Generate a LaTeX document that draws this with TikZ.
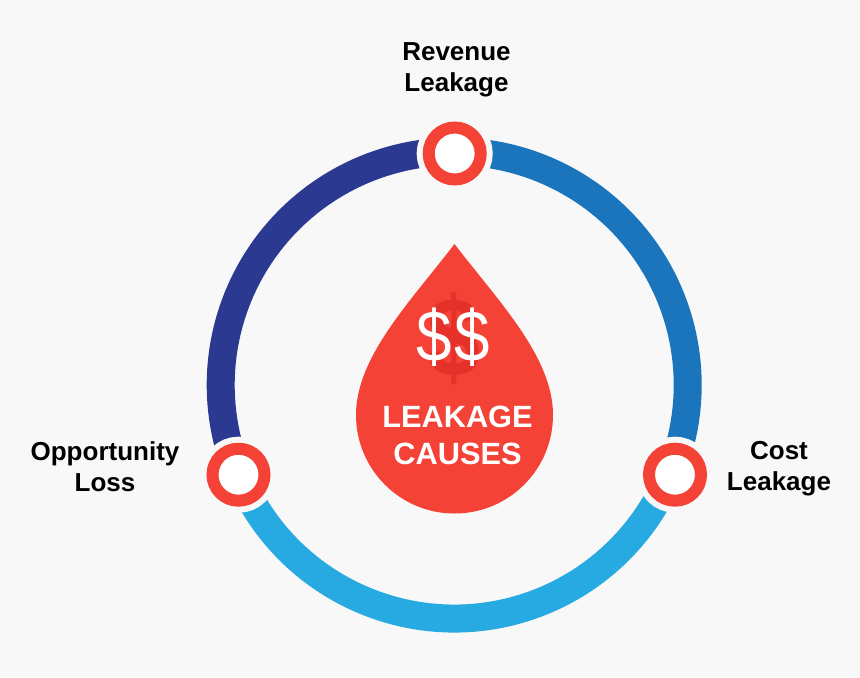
\documentclass[tikz,border=0pt]{standalone}
\usepackage{fontspec}
\setmainfont{Liberation Sans}
\definecolor{pagebg}{HTML}{F8F8F8}
\definecolor{leakred}{HTML}{F44336}
\definecolor{darkdollar}{HTML}{E6302A}
\definecolor{navyseg}{HTML}{2B3990}
\definecolor{blueseg}{HTML}{1B75BC}
\definecolor{skyseg}{HTML}{27AAE1}

\begin{document}
\begin{tikzpicture}[
	  ringseg/.style={line width=0.28cm},
	  causenode/.style={circle, inner sep=0pt, outer sep=0pt, minimum size=0.52cm, draw=leakred, line width=0.12cm, fill=white, preaction={draw=pagebg, line width=0.24cm}},
	  causelabel/.style={align=center, font=\fontsize{7.4}{8.8}\selectfont\bfseries},
	  droptext/.style={align=center, text=white, font=\fontsize{8.75}{10.5}\selectfont\bfseries}
	]

	\fill [pagebg] (0,0) rectangle (8.6,6.77);
	\useasboundingbox (0,0) rectangle (8.6,6.77);

	\coordinate (ringc) at (4.542,2.92);

	\draw [ringseg, navyseg] ([shift={(90:2.335)}]ringc) arc[start angle=90, end angle=203, radius=2.335];
	\draw [ringseg, blueseg] ([shift={(90:2.335)}]ringc) arc[start angle=90, end angle=-23, radius=2.335];
	\draw [ringseg, skyseg] ([shift={(203:2.335)}]ringc) arc[start angle=203, end angle=337, radius=2.335];

	\node (revenue) [causenode] at (4.547,5.235) {};
	\node (opportunity) [causenode] at (2.385,2.023) {};
	\node (cost) [causenode] at (6.75,2.023) {};

	\node (revenuelabel) [causelabel] at (4.565,6.075) {Revenue\\Leakage};
	\node (opportunitylabel) [causelabel] at (1.05,2.10) {Opportunity\\Loss};
	\node (costlabel) [causelabel] at (7.79,2.08) {Cost\\Leakage};

	\fill [leakred] (4.545,4.33) .. controls (4.1,3.75) and (3.56,3.2) .. (3.56,2.62)
		arc[start angle=180, end angle=360, radius=0.985]
		.. controls (5.53,3.2) and (4.99,3.75) .. cycle;

	\node (bigdollar) [text=darkdollar, transform shape, xscale=0.85, font=\fontsize{32}{32}\selectfont\bfseries] at (4.54,3.38) {\$};
	\node (dollars) [text=white, transform shape, xscale=0.88, font=\fontsize{20.6}{20.6}\selectfont] at (4.53,3.40) {\$\kern1pt\$};
	\node (leakagetext) [droptext] at (4.575,2.42) {LEAKAGE\\CAUSES};

\end{tikzpicture}
\end{document}
